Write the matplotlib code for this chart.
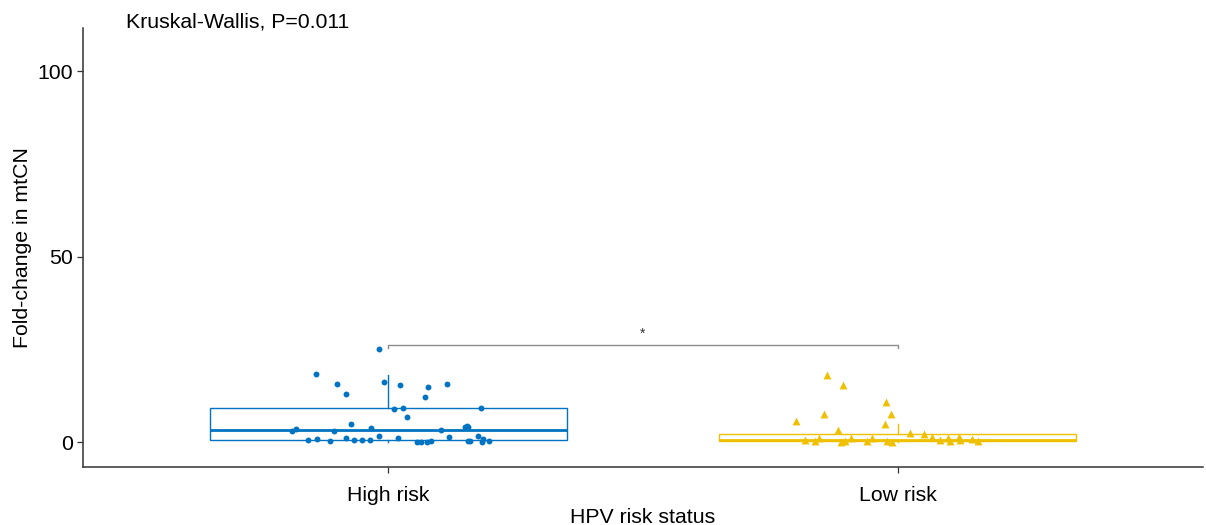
import numpy as np
import matplotlib.pyplot as plt

plt.rcParams['font.family'] = ['Liberation Sans', 'DejaVu Sans']

# grupos y colores (paleta jco)
grupos = ['High risk', 'Low risk']
colores = ['#0073C2', '#EFC000']

# estadisticos de las cajas
q1 = [0.45, 0.3]
mediana = [3.3, 0.7]
q3 = [9.2, 2.1]
bigote_inf = [0.0, 0.0]
bigote_sup = [18.2, 4.8]

# puntos High risk: desplazamiento horizontal (jitter) y valor
high_jit = [-0.018, -0.142, -0.101, -0.084, -0.009, 0.022, 0.078, 0.071, 0.116,
            0.011, 0.029, 0.037, 0.182, -0.073, -0.190, -0.181, -0.106, -0.034,
            0.103, 0.155, 0.157, 0.151, -0.158, -0.141, -0.114, -0.084, -0.068,
            -0.052, -0.037, -0.019, 0.018, 0.056, 0.063, 0.076, 0.084, 0.118,
            0.157, 0.161, 0.176, 0.184, 0.186, 0.197]
high_val = [25.1, 18.3, 15.6, 13.0, 16.3, 15.5, 14.9, 12.1, 15.6,
            9.0, 9.3, 6.9, 9.2, 4.9, 3.1, 3.6, 2.9, 3.7,
            3.3, 4.3, 4.0, 4.0, 0.5, 0.9, 0.3, 1.1, 0.5,
            0.5, 0.5, 1.7, 1.0, 0.0, 0.0, 0.0, 0.4, 1.5,
            0.4, 0.4, 1.7, 0.0, 0.9, 0.3]

# puntos Low risk
low_jit = [-0.139, -0.107, -0.023, -0.013, -0.144, -0.199, -0.024, -0.117, 0.025,
           0.052, -0.181, -0.163, -0.154, -0.112, -0.103, -0.091, -0.060, -0.050,
           -0.021, -0.011, 0.067, 0.084, 0.100, 0.103, 0.120, 0.123, 0.146, 0.159]
low_val = [18.0, 15.5, 10.9, 7.7, 7.6, 5.8, 4.9, 3.4, 2.5,
           2.3, 0.5, 0.3, 1.2, 0.1, 0.3, 1.2, 0.3, 1.2,
           0.3, 0.1, 1.3, 0.5, 1.0, 0.3, 1.3, 0.5, 0.8, 0.2]

p_valor = 'Kruskal-Wallis, P=0.011'
nivel_corchete = 26.1

fig = plt.figure(figsize=(12.06, 5.25), dpi=100)
ax = fig.add_axes([0.0688, 0.1105, 0.9287, 0.836])

# cajas
for i in range(2):
    stats = [dict(q1=q1[i], med=mediana[i], q3=q3[i],
                  whislo=bigote_inf[i], whishi=bigote_sup[i], fliers=[])]
    ax.bxp(stats, positions=[i + 1], widths=0.7, showcaps=False,
           showfliers=False, patch_artist=True,
           boxprops=dict(facecolor='white', edgecolor=colores[i], linewidth=1.0),
           whiskerprops=dict(color=colores[i], linewidth=1.0),
           medianprops=dict(color=colores[i], linewidth=2.0))

# puntos con jitter
ax.scatter(1 + np.array(high_jit), high_val, s=18, color=colores[0],
           marker='o', zorder=3, linewidths=0)
ax.scatter(2 + np.array(low_jit), low_val, s=32, color=colores[1],
           marker='^', zorder=3, linewidths=0)

# corchete de comparacion
ax.plot([1, 1, 2, 2], [nivel_corchete - 0.6, nivel_corchete, nivel_corchete,
                       nivel_corchete - 0.6], color='#8c8c8c', linewidth=1.0)
ax.text(1.5, nivel_corchete + 3.2, '*', ha='center', va='center',
        fontsize=10, color='#333333')

ax.text(0.038, 1.014, p_valor, transform=ax.transAxes, ha='left', va='center',
        fontsize=15.3, clip_on=False)

ax.set_xlim(0.4, 2.6)
ax.set_ylim(-6.7, 111.6)
ax.set_xticks([1, 2])
ax.set_xticklabels(grupos)
ax.set_yticks([0, 50, 100])
ax.tick_params(labelsize=15.3, length=4, width=0.9, colors='#333333', labelcolor='black')
ax.tick_params(axis='x', pad=9.5)
ax.set_xlabel('HPV risk status', fontsize=15.3, labelpad=2)
ax.set_ylabel('Fold-change in mtCN', fontsize=15.3, labelpad=4)
for lado in ['top', 'right']:
    ax.spines[lado].set_visible(False)
for lado in ['left', 'bottom']:
    ax.spines[lado].set_linewidth(1.1)
    ax.spines[lado].set_color('#333333')

plt.savefig('out.png', dpi=100)
